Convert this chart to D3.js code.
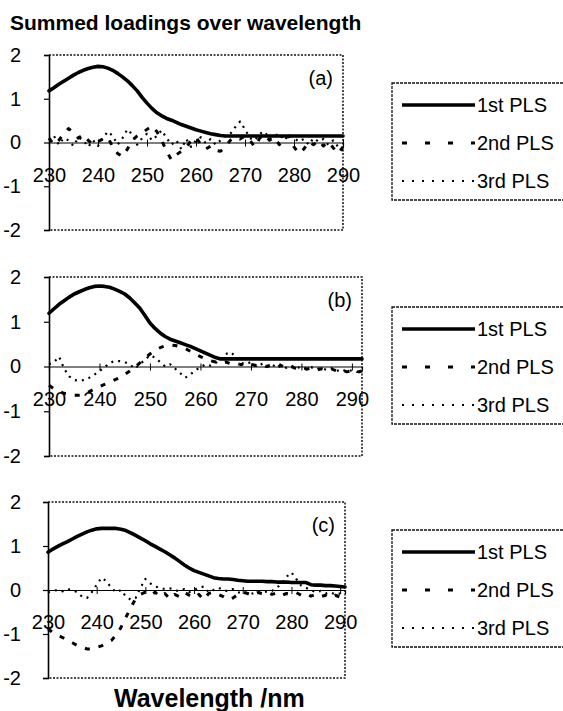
<!DOCTYPE html>
<html><head><meta charset="utf-8">
<script src="https://cdn.jsdelivr.net/npm/d3@7"></script>
<style>
html,body{margin:0;padding:0;background:#fff;overflow:hidden;}
text{font-family:"Liberation Sans",Arial,sans-serif;fill:#000;}
</style></head>
<body><svg id="c" width="563" height="711"></svg>
<script>
// ---------- DATA ----------
const title = "Summed loadings over wavelength";
const xTitle = "Wavelength /nm";
const seriesNames = ["1st PLS", "2nd PLS", "3rd PLS"];
const panelLabels = ["(a)", "(b)", "(c)"];
const yTicks = [2, 1, 0, -1, -2];
const xTicks = [230, 240, 250, 260, 270, 280, 290];

const wlA = [230,231,232,233,234,235,236,237,238,239,240,241,242,243,244,245,246,247,248,249,250,251,252,253,254,255,256,257,258,259,260,261,262,263,264,265,266,267,268,269,270,271,272,273,274,275,276,277,278,279,280,281,282,283,284,285,286,287,288,289,290];
const wlB = [230,231,232,233,234,235,236,237,238,239,240,241,242,243,244,245,246,247,248,249,250,251,252,253,254,255,256,257,258,259,260,261,262,263,264,265,266,267,268,269,270,271,272,273,274,275,276,277,278,279,280,281,282,283,284,285,286,287,288,289,290,291,292];
const wlC = [230,231,232,233,234,235,236,237,238,239,240,241,242,243,244,245,246,247,248,249,250,251,252,253,254,255,256,257,258,259,260,261,262,263,264,265,266,267,268,269,270,271,272,273,274,275,276,277,278,279,280,281,282,283,284,285,286,287,288,289,290,291];

// panel (a)
const a1 = [1.18,1.25,1.33,1.40,1.47,1.54,1.60,1.65,1.69,1.72,1.74,1.73,1.70,1.65,1.58,1.50,1.41,1.30,1.18,1.03,0.90,0.78,0.68,0.61,0.55,0.51,0.46,0.41,0.37,0.33,0.29,0.26,0.23,0.20,0.18,0.16,0.15,0.15,0.15,0.15,0.15,0.15,0.15,0.15,0.15,0.15,0.15,0.15,0.15,0.15,0.15,0.15,0.15,0.15,0.15,0.15,0.15,0.15,0.15,0.15,0.15];
const a2 = [0.10,-0.05,0.05,0.20,0.32,0.22,0.10,0.18,0.05,-0.05,0.02,0.08,0.12,-0.10,-0.25,-0.32,-0.15,0.05,0.15,0.22,0.30,0.38,0.25,0.05,-0.20,-0.40,-0.28,-0.20,-0.12,0.05,0.12,-0.05,-0.15,-0.08,-0.18,-0.20,-0.10,0.05,0.12,0.08,0.15,0.05,-0.10,0.10,0.18,0.05,0.12,-0.05,0.10,0.15,-0.10,-0.25,-0.15,0.02,-0.05,0.05,-0.08,0.02,-0.12,-0.25,-0.10];
const a3 = [0.05,0.15,-0.05,0.10,0.05,-0.08,0.12,0.05,-0.10,0.05,-0.08,0.10,0.25,0.15,-0.05,0.10,0.30,0.18,-0.05,0.10,0.20,0.05,0.15,0.28,0.10,-0.05,0.05,-0.15,0.08,-0.10,0.05,0.12,-0.02,0.08,-0.05,0.05,0.15,0.20,0.35,0.48,0.30,0.10,0.05,0.20,0.25,0.08,0.15,0.20,0.05,0.18,0.10,0.02,0.08,-0.05,0.10,0.02,0.08,-0.05,0.05,-0.10,-0.18];

// panel (b)
const b1 = [1.19,1.29,1.39,1.47,1.55,1.62,1.67,1.72,1.76,1.79,1.80,1.79,1.77,1.73,1.68,1.62,1.53,1.42,1.30,1.14,0.97,0.85,0.75,0.67,0.61,0.57,0.53,0.49,0.45,0.40,0.35,0.30,0.25,0.20,0.17,0.17,0.17,0.17,0.17,0.17,0.17,0.17,0.17,0.17,0.17,0.17,0.17,0.17,0.17,0.17,0.17,0.17,0.17,0.17,0.17,0.17,0.17,0.17,0.17,0.17,0.17,0.17,0.17];
const b2 = [-0.42,-0.50,-0.56,-0.60,-0.62,-0.64,-0.64,-0.62,-0.56,-0.50,-0.45,-0.40,-0.35,-0.30,-0.25,-0.18,-0.10,-0.02,0.08,0.18,0.28,0.36,0.42,0.46,0.48,0.47,0.44,0.40,0.34,0.28,0.22,0.17,0.13,0.10,0.08,0.10,0.06,0.08,0.04,0.07,0.05,0.02,0.05,0.00,0.03,-0.02,0.02,-0.03,0.00,-0.05,-0.02,-0.06,-0.03,-0.08,-0.05,-0.09,-0.06,-0.10,-0.08,-0.12,-0.09,-0.13,-0.10];
const b3 = [0.05,0.10,0.22,-0.05,-0.22,-0.30,-0.32,-0.30,-0.25,-0.18,-0.10,-0.02,0.08,0.12,0.12,0.10,0.05,-0.05,0.05,0.15,0.25,0.20,0.10,0.00,0.05,-0.05,-0.15,-0.25,-0.18,-0.08,-0.02,0.05,0.02,0.08,0.15,0.28,0.32,0.22,0.08,0.05,0.10,0.02,0.06,-0.02,0.04,0.00,0.05,-0.03,0.02,-0.04,0.00,-0.05,-0.02,-0.06,-0.03,-0.08,-0.04,-0.10,-0.06,-0.12,-0.08,-0.12,-0.10];

// panel (c)
const c1 = [0.86,0.93,0.99,1.05,1.10,1.16,1.22,1.27,1.32,1.36,1.39,1.40,1.40,1.40,1.40,1.38,1.35,1.30,1.24,1.18,1.12,1.05,0.99,0.93,0.87,0.80,0.73,0.65,0.57,0.50,0.44,0.40,0.36,0.32,0.28,0.26,0.25,0.25,0.24,0.22,0.21,0.20,0.20,0.20,0.20,0.19,0.19,0.18,0.18,0.18,0.17,0.17,0.17,0.17,0.12,0.11,0.11,0.10,0.10,0.09,0.08,0.07];
const c2 = [-0.88,-0.97,-1.03,-1.08,-1.14,-1.20,-1.26,-1.30,-1.34,-1.34,-1.30,-1.27,-1.22,-1.15,-1.02,-0.85,-0.62,-0.40,-0.20,-0.10,-0.05,-0.12,-0.05,-0.15,-0.08,-0.20,-0.10,-0.15,-0.05,-0.12,-0.18,-0.10,-0.22,-0.08,-0.05,-0.10,-0.15,-0.22,-0.18,-0.10,-0.05,-0.08,-0.12,-0.06,-0.08,-0.05,-0.10,-0.06,-0.12,-0.08,-0.10,-0.06,-0.12,-0.08,-0.14,-0.10,-0.15,-0.12,-0.18,-0.12,-0.16,-0.10];
const c3 = [-0.05,-0.02,0.00,-0.03,0.02,0.00,-0.05,-0.15,-0.18,-0.05,0.12,0.28,0.20,0.05,-0.05,0.00,-0.15,-0.22,-0.18,0.05,0.25,0.15,0.08,0.05,0.02,0.04,0.00,-0.03,0.02,-0.05,0.00,0.05,0.08,-0.05,0.00,0.05,0.00,-0.03,0.02,-0.05,-0.08,-0.05,-0.08,-0.04,-0.06,-0.03,-0.02,0.05,0.15,0.30,0.40,0.25,0.10,0.05,0.00,-0.05,-0.02,-0.08,-0.05,-0.10,-0.08,-0.12];

// ---------- LAYOUT ----------
const svg = d3.select("#c");
const panels = [
  {label: panelLabels[0], wl: wlA, s: [a1,a2,a3], top: 55,  bottom: 230, left: 49, right: 343, legTop: 83},
  {label: panelLabels[1], wl: wlB, s: [b1,b2,b3], top: 277, bottom: 456, left: 49, right: 362, legTop: 307},
  {label: panelLabels[2], wl: wlC, s: [c1,c2,c3], top: 502, bottom: 678, left: 48, right: 345, legTop: 530}
];
const styles = [
  {w: 3.6, dash: null, cap: "round"},
  {w: 3, dash: "5,9", cap: "butt"},
  {w: 2.2, dash: "2,5", cap: "butt"}
];
const fmt = d => String(d);   // plain hyphen-minus like the reference

svg.append("text").attr("x", 10).attr("y", 30)
  .attr("font-size", 21).attr("font-weight", "bold").text(title);

panels.forEach(p => {
  const x = d3.scaleLinear().domain([p.wl[0], p.wl[p.wl.length-1]]).range([p.left, p.right]);
  const y = d3.scaleLinear().domain([-2, 2]).range([p.bottom, p.top]);
  const g = svg.append("g");

  // plot area border (dotted)
  g.append("path")
    .attr("d", `M${p.left},${p.top}H${p.right}V${p.bottom}H${p.left}`)
    .attr("fill", "none").attr("stroke", "#111").attr("stroke-width", 1.5)
    .attr("stroke-dasharray", "2,1.5");

  // y axis
  const ya = d3.axisLeft(y).tickValues(yTicks).tickSize(5).tickPadding(0).tickFormat(fmt);
  const yg = g.append("g").attr("transform", `translate(${p.left},0)`).call(ya);
  yg.select(".domain").attr("stroke", "#000").attr("stroke-width", 1.6);
  yg.selectAll(".tick line").attr("stroke", "#000").attr("stroke-width", 1.2);
  yg.selectAll(".tick text").attr("x", 21 - p.left).attr("font-size", 20)
    .attr("font-family", "Liberation Sans, Arial, sans-serif").attr("fill", "#000");

  // series lines
  [2, 1, 0].forEach(i => {
    const st = styles[i];
    const line = d3.line().x((d, k) => x(p.wl[k])).y(d => y(d));
    g.append("path").datum(p.s[i])
      .attr("d", line)
      .attr("fill", "none").attr("stroke", "#000")
      .attr("stroke-width", st.w)
      .attr("stroke-linejoin", "round")
      .attr("stroke-linecap", st.cap)
      .attr("stroke-dasharray", st.dash);
  });

  // x axis at zero
  const xa = d3.axisBottom(x).tickValues(xTicks).tickSize(4).tickPadding(0).tickFormat(fmt);
  const xg = g.append("g").attr("transform", `translate(0,${y(0)})`).call(xa);
  xg.select(".domain").attr("stroke", "#000").attr("stroke-width", 1.2);
  xg.selectAll(".tick line").attr("stroke", "#000").attr("y1", -3).attr("y2", 4);
  xg.selectAll(".tick text").attr("y", 39).attr("dy", null).attr("font-size", 20)
    .attr("font-family", "Liberation Sans, Arial, sans-serif").attr("fill", "#000");

  // panel label
  g.append("text").attr("x", p.right - 10).attr("y", p.top + 30)
    .attr("text-anchor", "end").attr("font-size", 20).text(p.label);

  // legend
  const lg = svg.append("g").attr("transform", `translate(392,${p.legTop})`);
  lg.append("rect").attr("x", 0).attr("y", 0).attr("width", 190).attr("height", 117)
    .attr("fill", "#fff").attr("stroke", "#111").attr("stroke-width", 1.3)
    .attr("stroke-dasharray", "3,1");
  seriesNames.forEach((name, i) => {
    const cy = 22 + i * 38;
    const st = styles[i];
    lg.append("line").attr("x1", 10).attr("x2", 83).attr("y1", cy).attr("y2", cy)
      .attr("stroke", "#000").attr("stroke-width", st.w)
      .attr("stroke-dasharray", i === 1 ? "5,18" : (i === 2 ? "2,8" : null));
    lg.append("text").attr("x", 85).attr("y", cy + 7).attr("font-size", 20).text(name);
  });
});

svg.append("text").attr("x", 114).attr("y", 707)
  .attr("font-size", 25).attr("font-weight", "bold").text(xTitle);
</script></body></html>
